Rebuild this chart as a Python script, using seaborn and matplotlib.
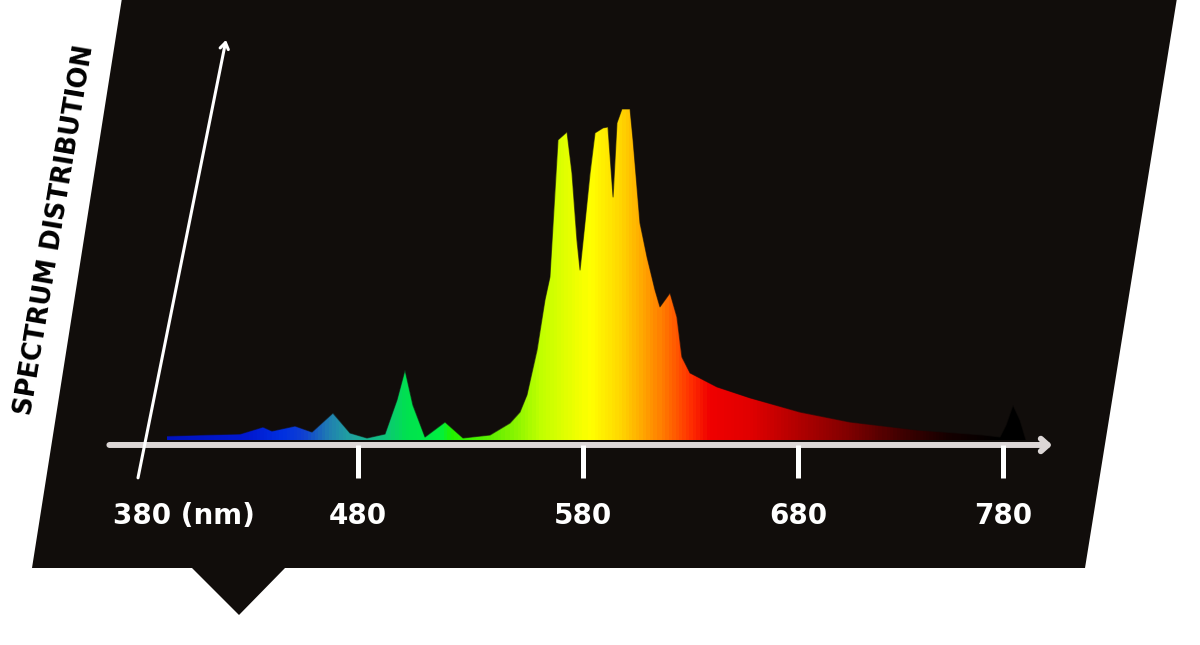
import numpy as np
import pandas as pd
import matplotlib
matplotlib.use("Agg")
import matplotlib.pyplot as plt
import seaborn as sns
from matplotlib.patches import Polygon
from matplotlib.colors import LinearSegmentedColormap, Normalize
from matplotlib.transforms import offset_copy

# ---------------- data ----------------
wavelength = [393.2, 408.2, 426.4, 436.8, 440.9, 451.4, 459.1, 468.6, 476.4, 484.0,
              492.0, 497.3, 500.9, 504.4, 509.8, 518.7, 526.7, 538.7, 547.6, 552.0,
              555.1, 559.6, 563.1, 565.3, 567.6, 568.9, 572.9, 575.1, 577.3, 578.7,
              580.9, 583.3, 585.6, 589.3, 591.6, 594.0, 595.8, 598.1, 601.9, 603.3,
              606.5, 609.8, 613.5, 615.8, 620.5, 623.7, 626.0, 629.8, 642.3, 657.7,
              681.0, 705.4, 738.0, 770.2, 778.5, 781.5, 784.9, 788.3, 791.2]
intensity = [1.2, 1.5, 1.8, 3.9, 2.7, 4.2, 2.4, 8.1, 2.1, 0.6,
             1.8, 12.0, 21.1, 10.5, 0.9, 5.4, 0.6, 1.5, 5.1, 8.4,
             13.6, 27.1, 42.2, 49.1, 75.3, 90.4, 92.8, 80.4, 60.2, 51.2,
             65.4, 80.4, 92.5, 94.0, 94.3, 73.2, 95.5, 99.7, 99.7, 90.4,
             65.4, 55.1, 45.2, 40.1, 44.3, 37.0, 25.0, 20.2, 16.0, 12.7,
             8.4, 5.4, 3.0, 1.5, 0.9, 4.5, 10.5, 6.0, 0.0]
tick_values = [380, 480, 580, 680, 780]
tick_labels = ["380 (nm)", "480", "580", "680", "780"]
y_title = "SPECTRUM DISTRIBUTION"

df = pd.DataFrame({"wavelength": wavelength, "intensity": intensity})

# ---------------- layout / style ----------------
W, H = 1200, 645
BG = "#110d0b"
AXIS_COL = "#dcd6d6"

# the drawn wavelength axis is hand-spaced: pixel position of each labelled tick
TICK_PX = [138, 358, 583, 798, 1003]
LEFT_SLOPE, RIGHT_SLOPE = 2.2, 2.05   # px per nm outside the tick range


def fwd(v):
    v = np.asarray(v, dtype=float)
    out = np.interp(v, tick_values, TICK_PX)
    out = np.where(v < tick_values[0], TICK_PX[0] + (v - tick_values[0]) * LEFT_SLOPE, out)
    out = np.where(v > tick_values[-1], TICK_PX[-1] + (v - tick_values[-1]) * RIGHT_SLOPE, out)
    return out


def inv(p):
    p = np.asarray(p, dtype=float)
    out = np.interp(p, TICK_PX, tick_values)
    out = np.where(p < TICK_PX[0], tick_values[0] + (p - TICK_PX[0]) / LEFT_SLOPE, out)
    out = np.where(p > TICK_PX[-1], tick_values[-1] + (p - TICK_PX[-1]) / RIGHT_SLOPE, out)
    return out


BASE_PX, PX_PER_UNIT = 440.0, 3.32   # intensity 0 at y=440 px, 100 at ~108 px

sns.set_style("white")
plt.rcParams["font.family"] = ["DejaVu Sans"]

fig = plt.figure(figsize=(W / 100, H / 100), dpi=100)
fig.patch.set_facecolor("white")

# background shape (pixel coordinates)
bg = fig.add_axes([0, 0, 1, 1], zorder=0)
bg.set_xlim(0, W)
bg.set_ylim(H, 0)
bg.axis("off")
shape = [(122, -2), (1177, -2), (1085, 568), (285, 568), (239, 615), (192, 568), (32, 568)]
bg.add_patch(Polygon(shape, closed=True, facecolor=BG, edgecolor="none"))
bg.text(55, 230, y_title, rotation=80.5, ha="center", va="center",
        fontsize=18.5, fontweight="bold", color="black")

# main chart axes
ax = fig.add_axes([0, 0, 1, 1], zorder=1)
ax.patch.set_alpha(0)
ax.set_xscale("function", functions=(fwd, inv))
ax.set_xlim(float(inv(0)), float(inv(W)))
ax.set_ylim((BASE_PX - H) / PX_PER_UNIT, BASE_PX / PX_PER_UNIT)
ax.axis("off")

# spectral gradient clipped to the spectrum shape
stops = [(380, "#0010b8"), (430, "#0018d0"), (445, "#0030e0"), (455, "#1040d0"),
         (467, "#2080b0"), (476, "#20a0a0"), (490, "#10c080"), (501, "#00e050"),
         (516, "#00f040"), (521, "#20f000"), (544, "#70f000"), (561, "#c0ff00"),
         (583, "#ffff00"), (597, "#ffd800"), (606, "#ffb000"), (616, "#ff8000"),
         (630, "#ff3000"), (639, "#f00000"), (658, "#e00000"), (681, "#b00000"),
         (705, "#800000"), (730, "#400000"), (754, "#150000"), (778, "#000000"),
         (800, "#000000")]
lo, hi = stops[0][0], stops[-1][0]
cmap = LinearSegmentedColormap.from_list(
    "spectrum", [((s - lo) / (hi - lo), c) for s, c in stops])

xs = np.linspace(df.wavelength.min() - 1, df.wavelength.max() + 1, 500)
ys = np.array([0, 110])
XX, YY = np.meshgrid(xs, ys)
mesh = ax.pcolormesh(XX, YY, np.tile((xs[:-1] + xs[1:]) / 2, (1, 1)),
                     cmap=cmap, norm=Normalize(lo, hi), shading="flat", zorder=2)
verts = [(df.wavelength.iloc[0], 0)] + list(zip(df.wavelength, df.intensity)) + \
        [(df.wavelength.iloc[-1], 0)]
clip = Polygon(verts, closed=True, transform=ax.transData, facecolor="none", edgecolor="none")
ax.add_patch(clip)
mesh.set_clip_path(clip)

# soft dark outline of the spectrum
sns.lineplot(data=df, x="wavelength", y="intensity", ax=ax, color=BG,
             linewidth=0.8, alpha=0.6, zorder=3, legend=False)
ax.axis("off")

# horizontal axis with arrow
y_axis_line = -1.5
ax.annotate("", xy=(804, y_axis_line), xytext=(367, y_axis_line),
            arrowprops=dict(arrowstyle="->,head_length=0.5,head_width=0.45",
                            color=AXIS_COL, lw=4.3, shrinkA=0, shrinkB=0),
            zorder=4)
# tick marks
tick_bottom = -11.4
for t in tick_values[1:]:
    ax.plot([t, t], [y_axis_line, tick_bottom], color="white", lw=3.6,
            solid_capstyle="butt", zorder=4)
# slanted vertical axis arrow (passes through the 380 tick)
ax.annotate("", xy=(420, 120.5), xytext=(380, tick_bottom),
            arrowprops=dict(arrowstyle="->,head_length=0.45,head_width=0.3",
                            color="white", lw=2.2, shrinkA=0, shrinkB=0),
            zorder=5)

# tick labels
label_y = -22.9
first = offset_copy(ax.transData, fig=fig, x=-25, y=0, units="dots")
for t, lab in zip(tick_values, tick_labels):
    if t == tick_values[0]:
        ax.text(t, label_y, lab, transform=first, ha="left", va="center",
                fontsize=20, fontweight="bold", color="white", zorder=6)
    else:
        ax.text(t, label_y, lab, ha="center", va="center",
                fontsize=20, fontweight="bold", color="white", zorder=6)

fig.savefig("out.png", dpi=100, facecolor="white")
